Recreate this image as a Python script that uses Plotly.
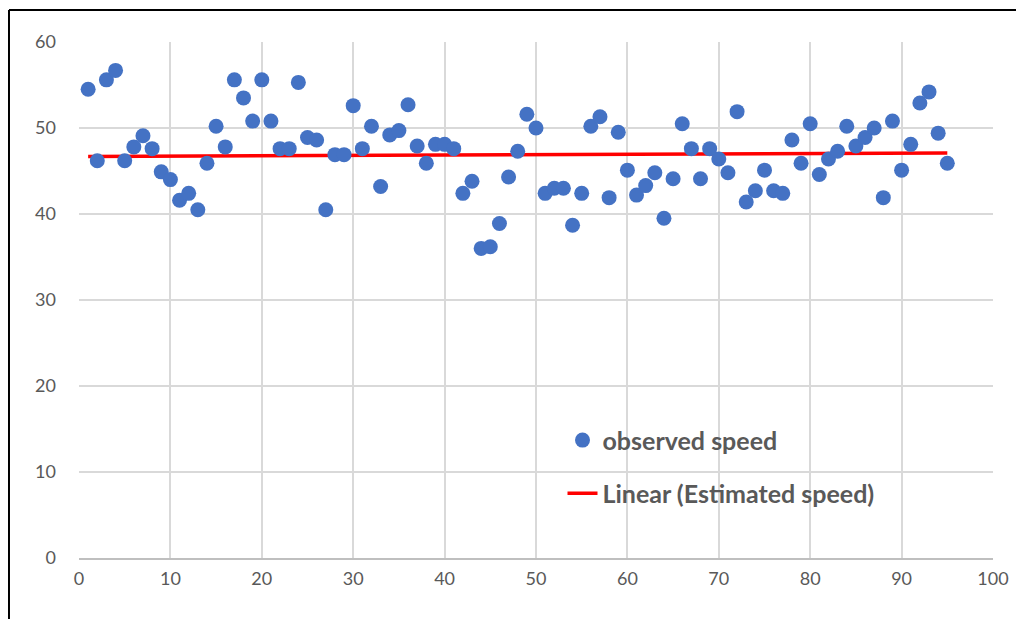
import plotly.graph_objects as go

# observed speed per sample
sample = list(range(1, 96))
speed = [54.5, 46.2, 55.6, 56.7, 46.2, 47.8, 49.1, 47.6, 44.9, 44.0,
         41.6, 42.4, 40.5, 45.9, 50.2, 47.8, 55.6, 53.5, 50.8, 55.6,
         50.8, 47.6, 47.6, 55.3, 48.9, 48.6, 40.5, 46.9, 46.9, 52.6,
         47.6, 50.2, 43.2, 49.2, 49.7, 52.7, 47.9, 45.9, 48.1, 48.1,
         47.6, 42.4, 43.8, 36.0, 36.2, 38.9, 44.3, 47.3, 51.6, 50.0,
         42.4, 43.0, 43.0, 38.7, 42.4, 50.2, 51.3, 41.9, 49.5, 45.1,
         42.2, 43.3, 44.8, 39.5, 44.1, 50.5, 47.6, 44.1, 47.6, 46.4,
         44.8, 51.9, 41.4, 42.7, 45.1, 42.7, 42.4, 48.6, 45.9, 50.5,
         44.6, 46.4, 47.3, 50.2, 47.9, 48.9, 50.0, 41.9, 50.8, 45.1,
         48.1, 52.9, 54.2, 49.4, 45.9]

# linear trend of the estimated speed (end points)
trend_x = [1, 95]
trend_y = [46.7, 47.1]

grey = '#595959'
grid = '#D9D9D9'

trace1 = go.Scatter(x=sample, y=speed, mode='markers', name='observed speed',
                    marker={'color': '#4472C4', 'size': 15},
                    showlegend=True, legend='legend')
trace2 = go.Scatter(x=trend_x, y=trend_y, mode='lines', name='Linear (Estimated speed)',
                    line={'color': '#FF0000', 'width': 3.5},
                    showlegend=True, legend='legend2')

fig = go.Figure(data=[trace2, trace1])

legend_font = {'family': 'Lato', 'size': 25, 'color': grey, 'weight': 'bold'}

# page body has an 8px margin, so the figure is drawn 8px in from the window edge
fig.update_layout(
    width=1016, height=611,
    margin={'l': 71, 'r': 31, 't': 34, 'b': 61},
    paper_bgcolor='white', plot_bgcolor='white',
    font={'family': 'Lato', 'size': 18, 'color': grey},
    showlegend=True,
    legend={'x': 0.529, 'y': 0.228, 'xanchor': 'left', 'yanchor': 'middle',
            'font': legend_font, 'bgcolor': 'rgba(0,0,0,0)', 'visible': True},
    legend2={'x': 0.529, 'y': 0.125, 'xanchor': 'left', 'yanchor': 'middle',
             'font': legend_font, 'bgcolor': 'rgba(0,0,0,0)', 'visible': True},
    xaxis={'range': [0, 100], 'dtick': 10, 'tick0': 0, 'showgrid': True,
           'gridcolor': grid, 'gridwidth': 1.5, 'zeroline': False,
           'showline': True, 'linecolor': '#BFBFBF', 'linewidth': 1.5,
           'ticks': '', 'ticklabelstandoff': 4},
    yaxis={'range': [0, 60], 'dtick': 10, 'tick0': 0, 'showgrid': True,
           'gridcolor': grid, 'gridwidth': 1.5, 'zeroline': False,
           'showline': False, 'ticks': '', 'ticklabelstandoff': 22},
    shapes=[
        {'type': 'line', 'xref': 'paper', 'yref': 'paper',
         'x0': -0.0766, 'x1': 1.2, 'y0': 1.062, 'y1': 1.062,
         'line': {'color': 'black', 'width': 2}},
        {'type': 'line', 'xref': 'paper', 'yref': 'paper',
         'x0': -0.0766, 'x1': -0.0766, 'y0': -0.2, 'y1': 1.062,
         'line': {'color': 'black', 'width': 2}},
    ],
)

fig.write_html("out.html")
